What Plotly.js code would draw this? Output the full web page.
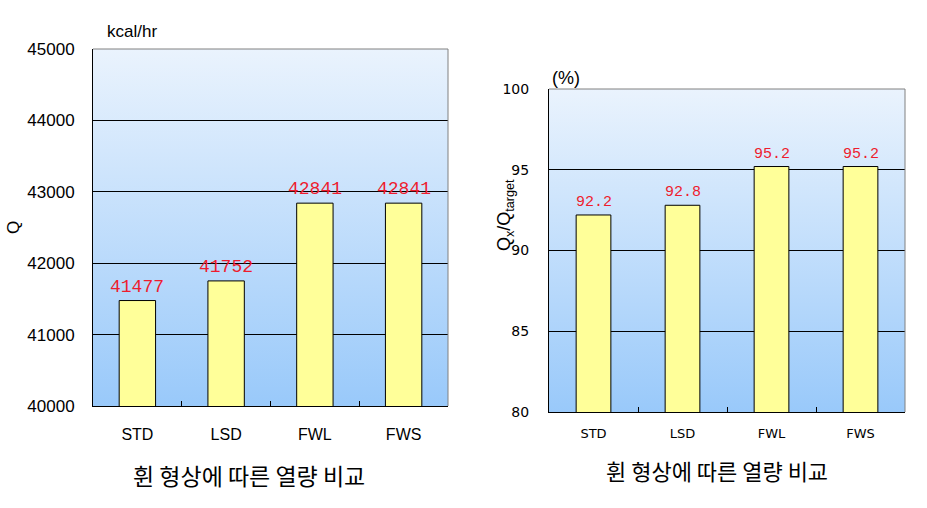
<!DOCTYPE html>
<html><head><meta charset="utf-8">
<script src="https://cdn.plot.ly/plotly-3.0.1.min.js"></script>
<style>html,body{margin:0;padding:0;background:#fff}#c{width:927px;height:508px}</style>
</head><body><div id="c"></div>
<script>
const categories = ['STD', 'LSD', 'FWL', 'FWS'];
const heatValues = [41477, 41752, 42841, 42841];      // kcal/hr
const ratioValues = [92.2, 92.8, 95.2, 95.2];         // %
const heatTicks = [40000, 41000, 42000, 43000, 44000, 45000];
const ratioTicks = [80, 85, 90, 95, 100];
const bottomTitle = '휜 형상에 따른 열량 비교';

const grad = 'data:image/svg+xml;utf8,' + encodeURIComponent(
 '<svg xmlns="http://www.w3.org/2000/svg" width="100" height="100" preserveAspectRatio="none">' +
 '<defs><linearGradient id="g" x1="0" y1="0" x2="0" y2="1">' +
 '<stop offset="0" stop-color="#eaf3fd"/><stop offset="1" stop-color="#99c9fa"/></linearGradient></defs>' +
 '<rect width="100" height="100" fill="url(#g)"/></svg>');

const barStyle = {color: '#ffff99', line: {color: '#000', width: 1}};
const traces = [
  {type: 'bar', x: categories, y: heatValues, xaxis: 'x', yaxis: 'y', width: 0.41, marker: barStyle, hoverinfo: 'none'},
  {type: 'bar', x: categories, y: ratioValues, xaxis: 'x2', yaxis: 'y2', width: 0.39, marker: barStyle, hoverinfo: 'none'}
];

const red = '#ee1c2e';
const ann = [];
categories.forEach((c, i) => {
  ann.push({xref: 'x', yref: 'y', x: c, y: heatValues[i], text: String(heatValues[i]), showarrow: false,
    yanchor: 'bottom', yshift: 2, font: {family: 'Liberation Mono, monospace', size: 18, color: red}});
  ann.push({xref: 'x2', yref: 'y2', x: c, y: ratioValues[i], text: ratioValues[i].toFixed(1), showarrow: false,
    yanchor: 'bottom', yshift: 2, font: {family: 'Liberation Mono, monospace', size: 15, color: red}});
});
const sans = 'Liberation Sans, Arial, sans-serif';
ann.push(
  {xref: 'paper', yref: 'paper', x: 105/927, y: (508-31)/508, xanchor: 'left', yanchor: 'middle', text: 'kcal/hr', showarrow: false, font: {family: sans, size: 17, color: '#000'}},
  {xref: 'paper', yref: 'paper', x: 550/927, y: (508-78)/508, xanchor: 'left', yanchor: 'middle', text: '(%)', showarrow: false, font: {family: sans, size: 18, color: '#000'}},
  {xref: 'paper', yref: 'paper', x: 13/927, y: (508-228)/508, xanchor: 'center', yanchor: 'middle', text: 'Q', textangle: -90, showarrow: false, font: {family: sans, size: 17, color: '#000'}},
  {xref: 'paper', yref: 'paper', x: 505/927, y: (508-215)/508, xanchor: 'center', yanchor: 'middle', text: 'Q<sub>x</sub>/Q<sub>target</sub>', textangle: -90, showarrow: false, font: {family: sans, size: 18, color: '#000'}},
  {xref: 'paper', yref: 'paper', x: 249/927, y: (508-475)/508, xanchor: 'center', yanchor: 'middle', text: bottomTitle, showarrow: false, font: {family: 'Noto Sans CJK KR, sans-serif', size: 23, color: '#000'}},
  {xref: 'paper', yref: 'paper', x: 717/927, y: (508-470)/508, xanchor: 'center', yanchor: 'middle', text: bottomTitle, showarrow: false, font: {family: 'Noto Sans CJK KR, sans-serif', size: 22, color: '#000'}}
);

const border = (xr, yr) => [
  {type: 'line', xref: xr + ' domain', yref: yr + ' domain', x0: 0, x1: 1, y0: 1, y1: 1, line: {color: '#808080', width: 1}},
  {type: 'line', xref: xr + ' domain', yref: yr + ' domain', x0: 1, x1: 1, y0: 0, y1: 1, line: {color: '#808080', width: 1}}
];

const layout = {
  width: 927, height: 508, margin: {l: 0, r: 0, t: 0, b: 0},
  paper_bgcolor: '#fff', plot_bgcolor: 'rgba(0,0,0,0)', showlegend: false, bargap: 0,
  xaxis: {domain: [93/927, 448/927], anchor: 'y', type: 'category', showline: true, linecolor: '#000', linewidth: 1,
    ticks: 'inside', tickson: 'boundaries', ticklen: 5, tickcolor: '#000', showgrid: false,
    tickfont: {family: sans, size: 16, color: '#000'}, ticklabelstandoff: 14, fixedrange: true},
  yaxis: {domain: [(508-406)/508, (508-49)/508], anchor: 'x', range: [40000, 45000], tickvals: heatTicks, tickformat: 'd',
    showline: true, linecolor: '#000', linewidth: 1, ticks: 'inside', ticklen: 6, tickcolor: '#000',
    showgrid: true, gridcolor: '#000', gridwidth: 1, zeroline: false,
    tickfont: {family: sans, size: 17, color: '#000'}, ticklabelstandoff: 14, fixedrange: true},
  xaxis2: {domain: [549/927, 905/927], anchor: 'y2', type: 'category', showline: true, linecolor: '#000', linewidth: 1,
    ticks: 'inside', tickson: 'boundaries', ticklen: 5, tickcolor: '#000', showgrid: false,
    tickfont: {family: 'DejaVu Sans, sans-serif', size: 13, color: '#000'}, ticklabelstandoff: 9, fixedrange: true},
  yaxis2: {domain: [(508-412)/508, (508-89)/508], anchor: 'x2', range: [80, 100], tickvals: ratioTicks,
    showline: true, linecolor: '#000', linewidth: 1, ticks: '',
    showgrid: true, gridcolor: '#000', gridwidth: 1, zeroline: false,
    tickfont: {family: 'DejaVu Sans, sans-serif', size: 14, color: '#000'}, ticklabelstandoff: 16, fixedrange: true},
  images: [
    {source: grad, xref: 'x domain', yref: 'y domain', x: 0, y: 1, sizex: 1, sizey: 1, sizing: 'stretch', layer: 'below', xanchor: 'left', yanchor: 'top'},
    {source: grad, xref: 'x2 domain', yref: 'y2 domain', x: 0, y: 1, sizex: 1, sizey: 1, sizing: 'stretch', layer: 'below', xanchor: 'left', yanchor: 'top'}
  ],
  shapes: border('x', 'y').concat(border('x2', 'y2')),
  annotations: ann
};
Plotly.newPlot('c', traces, layout, {staticPlot: true, displayModeBar: false});
</script></body></html>
